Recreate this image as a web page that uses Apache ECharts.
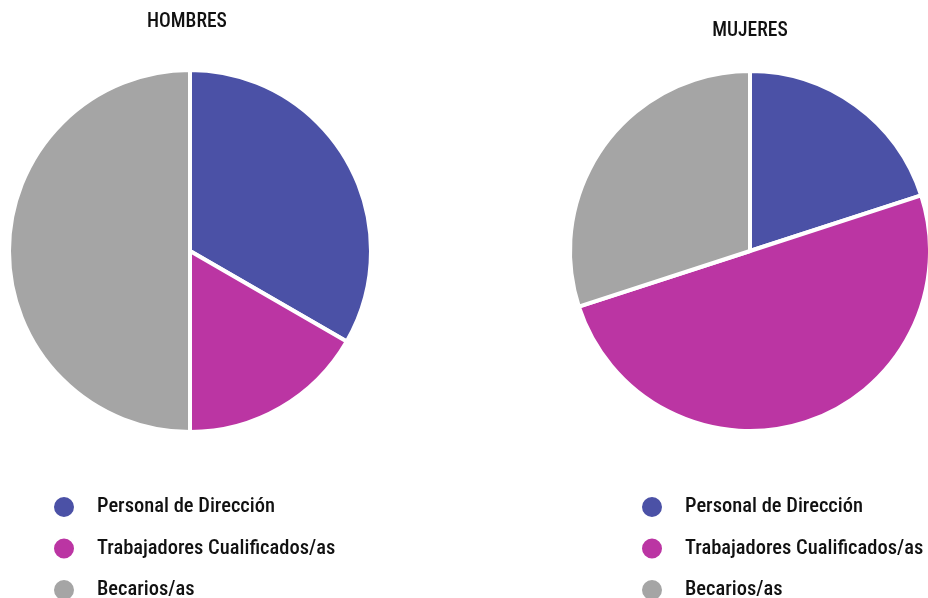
<!DOCTYPE html>
<html>
<head>
<meta charset="utf-8">
<script src="https://cdn.jsdelivr.net/npm/echarts@6/dist/echarts.min.js"></script>
<style>
  html, body { margin: 0; padding: 0; background: #fff; }
  #chart { width: 928px; height: 598px; }
</style>
</head>
<body>
<div id="chart"></div>
<script>
// Categories and values
const categories = ['Personal de Dirección', 'Trabajadores Cualificados/as', 'Becarios/as'];
const hombres = [2, 1, 3];
const mujeres = [2, 5, 3];
const colors = ['#4b51a6', '#bb35a3', '#a5a5a5'];

const font = '"Roboto Condensed", "Roboto", sans-serif';

function toData(values) {
  return categories.map((name, i) => ({ name: name, value: values[i] }));
}

// Legend settings (one under each pie)
function legendAt(left) {
  return {
    orient: 'vertical',
    left: left,
    top: 490,
    height: 120,
    icon: 'circle',
    itemWidth: 22,
    itemHeight: 22,
    itemGap: 17.5,
    selectedMode: false,
    data: categories,
    textStyle: {
      fontFamily: font,
      fontSize: 20.5,
      fontWeight: 500,
      color: '#111',
      padding: [0, 0, 0, 17],
    },
  };
}

const option = {
  color: colors,
  animation: false,
  title: [
    {
      text: 'HOMBRES',
      left: 182,
      top: 7,
      textAlign: 'center',
      textStyle: { fontFamily: font, fontSize: 19.5, fontWeight: 500, color: '#111' },
    },
    {
      text: 'MUJERES',
      left: 745,
      top: 16,
      textAlign: 'center',
      textStyle: { fontFamily: font, fontSize: 19.5, fontWeight: 500, color: '#111' },
    },
  ],
  legend: [legendAt(47), legendAt(635)],
  series: [
    {
      name: 'HOMBRES',
      type: 'pie',
      center: [190, 251],
      radius: [0, 181],
      label: { show: false },
      labelLine: { show: false },
      emphasis: { disabled: true },
      itemStyle: { borderColor: '#fff', borderWidth: 4 },
      data: toData(hombres),
    },
    {
      name: 'MUJERES',
      type: 'pie',
      center: [750, 251],
      radius: [0, 180],
      label: { show: false },
      labelLine: { show: false },
      emphasis: { disabled: true },
      itemStyle: { borderColor: '#fff', borderWidth: 4 },
      data: toData(mujeres),
    },
  ],
};

let myChart = echarts.init(document.getElementById('chart'));
myChart.setOption(option);
</script>
</body>
</html>
